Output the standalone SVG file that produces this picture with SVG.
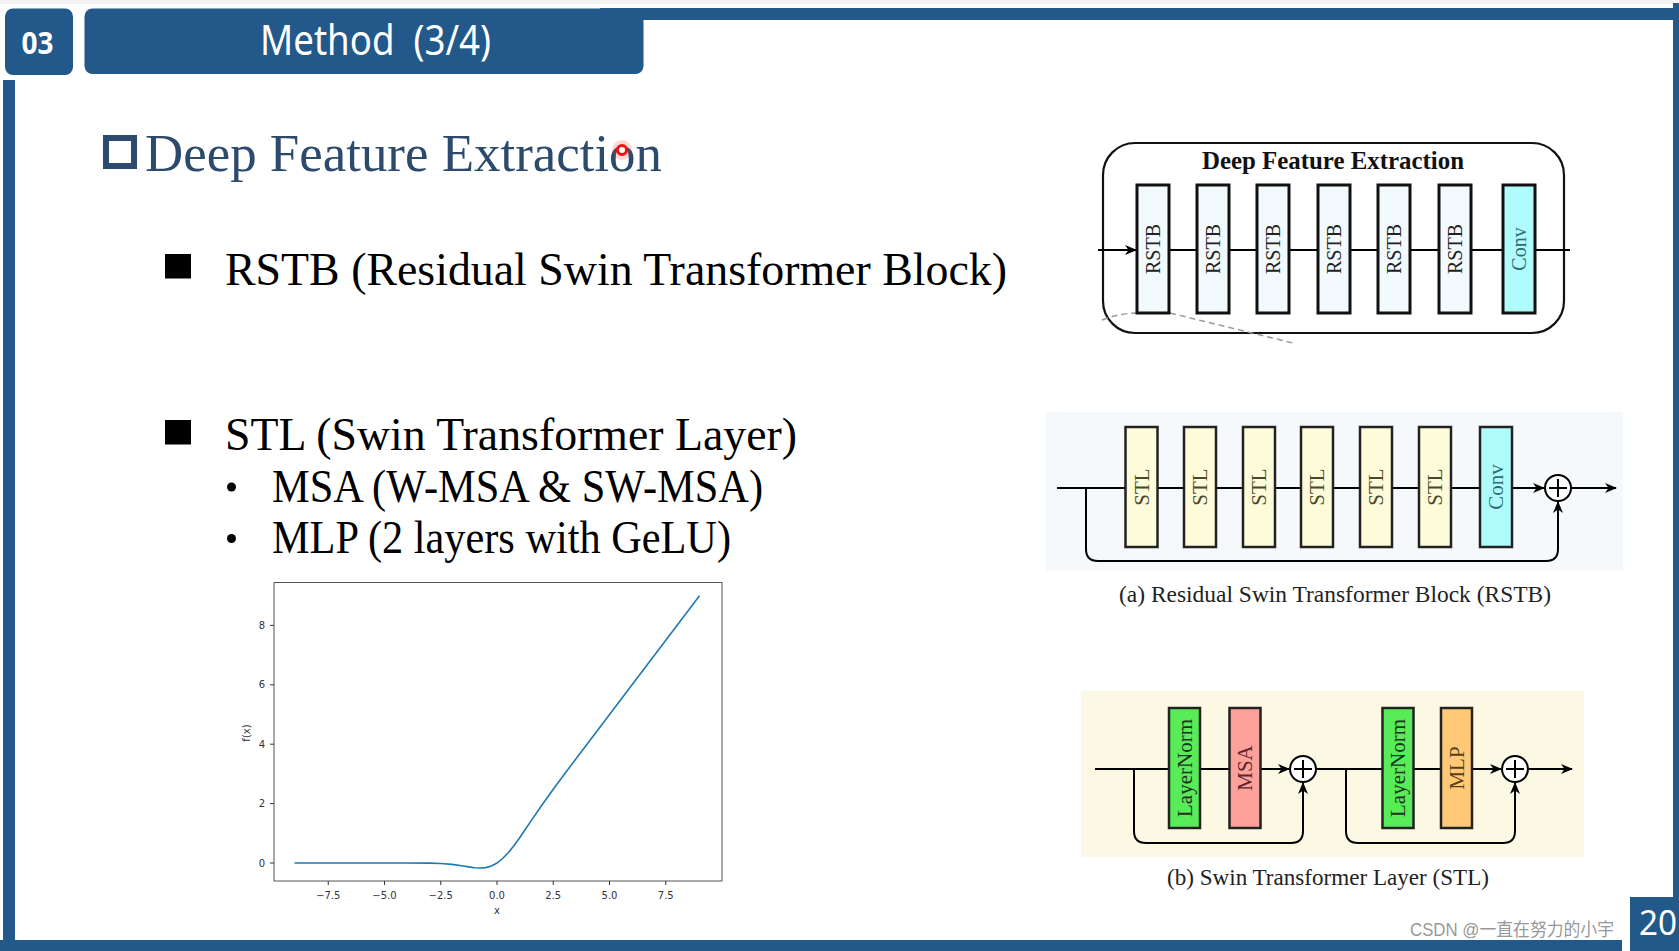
<svg xmlns="http://www.w3.org/2000/svg" width="1679" height="951" viewBox="0 0 1679 951">
<style>
.blue{fill:#22588a}
.serif{font-family:"Liberation Serif","Times New Roman",serif}
.sans{font-family:"Noto Sans","Open Sans","Liberation Sans",sans-serif}
.box{stroke:#111;stroke-width:3}
.boxs{stroke:#222;stroke-width:2.5}
.rot{font-family:"Liberation Serif","Times New Roman",serif;text-anchor:middle}
.ln{stroke:#000;stroke-width:2;fill:none}
.tick{font-family:"DejaVu Sans",sans-serif;font-size:10px;fill:#333}
</style>
<defs>
<marker id="arr" viewBox="0 0 12 10" refX="11" refY="5" markerWidth="12" markerHeight="10" orient="auto" markerUnits="userSpaceOnUse"><path d="M0,0 L12,5 L0,10 L3.5,5 z" fill="#000"/></marker>
</defs>
<rect width="1679" height="951" fill="#fff"/>
<rect width="1679" height="4" fill="#f3f3f3"/>
<!-- frame -->
<g id="frame">
<rect class="blue" x="600" y="8" width="1079" height="12"/>
<rect class="blue" x="1673" y="3" width="6" height="948"/>
<rect class="blue" x="3" y="80" width="12" height="871"/>
<rect class="blue" x="0" y="940" width="1622" height="11"/>
<rect class="blue" x="5" y="8.5" width="68" height="66.5" rx="8"/>
<text x="37.5" y="53.5" class="sans" font-size="30" font-weight="bold" fill="#fff" text-anchor="middle" textLength="32" lengthAdjust="spacingAndGlyphs">03</text>
<rect class="blue" x="84.5" y="8.5" width="559" height="65.5" rx="8"/>
<text x="260" y="55" class="sans" font-size="41" fill="#fff" textLength="231" lengthAdjust="spacingAndGlyphs">Method&#160;&#160;(3/4)</text>
<rect class="blue" x="1630" y="897" width="49" height="54"/>
<text x="1658" y="935" class="sans" font-size="34" fill="#fff" text-anchor="middle" textLength="38" lengthAdjust="spacingAndGlyphs">20</text>
</g>
<!-- heading -->
<g id="heading">
<rect x="106" y="138" width="28" height="28" fill="#fff" stroke="#2d4b6e" stroke-width="6"/>
<text x="145" y="171" class="serif" font-size="53" fill="#2c4a6b" textLength="517" lengthAdjust="spacingAndGlyphs">Deep Feature Extraction</text>
<circle cx="622" cy="150" r="10" fill="#ff3030" opacity="0.2"/>
<circle cx="622" cy="150" r="4.5" fill="#fff" stroke="#ee1111" stroke-width="3"/>
</g>
<!-- bullets -->
<g id="bullets" class="serif" fill="#000">
<rect x="165" y="254" width="26" height="24.5"/>
<text x="225" y="285" font-size="47" textLength="782" lengthAdjust="spacingAndGlyphs">RSTB (Residual Swin Transformer Block)</text>
<rect x="165" y="420" width="26" height="24.5"/>
<text x="225" y="450" font-size="47" textLength="572" lengthAdjust="spacingAndGlyphs">STL (Swin Transformer Layer)</text>
<circle cx="231.5" cy="487" r="4.5"/>
<text x="272" y="502" font-size="46" textLength="491" lengthAdjust="spacingAndGlyphs">MSA (W-MSA &amp; SW-MSA)</text>
<circle cx="231.5" cy="538.5" r="4.5"/>
<text x="272" y="552.5" font-size="46" textLength="459" lengthAdjust="spacingAndGlyphs">MLP (2 layers with GeLU)</text>
</g>
<!-- GELU plot -->
<g id="gelu-plot">
<rect x="274" y="582.5" width="448" height="298.5" fill="#fff" stroke="#555" stroke-width="1"/>
<g stroke="#333" stroke-width="1">
<path d="M270,863H274M270,803.6H274M270,744.2H274M270,684.8H274M270,625.4H274"/>
<path d="M328.25,881V885M384.5,881V885M440.75,881V885M497,881V885M553.25,881V885M609.5,881V885M665.75,881V885"/>
</g>
<g class="tick" text-anchor="end">
<text x="265" y="866.5">0</text><text x="265" y="807">2</text><text x="265" y="747.6">4</text><text x="265" y="688.2">6</text><text x="265" y="628.8">8</text>
</g>
<g class="tick" text-anchor="middle">
<text x="328.25" y="899">−7.5</text><text x="384.5" y="899">−5.0</text><text x="440.75" y="899">−2.5</text><text x="497" y="899">0.0</text><text x="553.25" y="899">2.5</text><text x="609.5" y="899">5.0</text><text x="665.75" y="899">7.5</text>
<text x="497" y="914">x</text>
<text x="250" y="733" transform="rotate(-90 250 733)">f(x)</text>
</g>
<polyline fill="none" stroke="#1f77b4" stroke-width="1.6" points="294.5,863 407,863 429.5,863.1 440.75,863.5 452,864.35 463.25,866 468.9,866.9 474.5,867.7 480.1,868.05 485.75,867.6 491.4,866 497,863 502.6,858.5 508.25,852.7 513.9,845.8 519.5,838 525.1,829.8 530.75,821.4 542,805 553.25,789.2 564.5,774 587,744.2 699.5,595.7"/>
</g>
<!-- Deep Feature Extraction panel -->
<g id="dfe-panel">
<rect x="1103" y="143" width="461" height="190" rx="32" fill="#fff" stroke="#111" stroke-width="2.2"/>
<text x="1333" y="169" class="serif" font-size="25" font-weight="bold" text-anchor="middle" fill="#111" textLength="262" lengthAdjust="spacingAndGlyphs">Deep Feature Extraction</text>
</g>
<g id="dfe-connectors">
<path class="ln" d="M1098,250H1136" marker-end="url(#arr)"/>
<path class="ln" d="M1169,250H1570"/>
<path d="M1102,320 Q1120,313 1138,313" fill="none" stroke="#999" stroke-width="1.5" stroke-dasharray="6,4"/>
<path d="M1170,313 L1293,343" fill="none" stroke="#999" stroke-width="1.5" stroke-dasharray="6,4"/>
</g>
<g id="rstb1"><rect class="box" x="1137" y="185" width="32" height="128" fill="#f2fafd"/><text class="rot" x="1153" y="249" dy="0.34em" font-size="20" fill="#222" transform="rotate(-90 1153 249)">RSTB</text></g>
<g id="rstb2"><rect class="box" x="1197" y="185" width="32" height="128" fill="#f2fafd"/><text class="rot" x="1213" y="249" dy="0.34em" font-size="20" fill="#222" transform="rotate(-90 1213 249)">RSTB</text></g>
<g id="rstb3"><rect class="box" x="1257" y="185" width="32" height="128" fill="#f2fafd"/><text class="rot" x="1273" y="249" dy="0.34em" font-size="20" fill="#222" transform="rotate(-90 1273 249)">RSTB</text></g>
<g id="rstb4"><rect class="box" x="1318" y="185" width="32" height="128" fill="#f2fafd"/><text class="rot" x="1334" y="249" dy="0.34em" font-size="20" fill="#222" transform="rotate(-90 1334 249)">RSTB</text></g>
<g id="rstb5"><rect class="box" x="1378" y="185" width="32" height="128" fill="#f2fafd"/><text class="rot" x="1394" y="249" dy="0.34em" font-size="20" fill="#222" transform="rotate(-90 1394 249)">RSTB</text></g>
<g id="rstb6"><rect class="box" x="1439" y="185" width="32" height="128" fill="#f2fafd"/><text class="rot" x="1455" y="249" dy="0.34em" font-size="20" fill="#222" transform="rotate(-90 1455 249)">RSTB</text></g>
<g id="conv-top"><rect class="box" x="1503" y="185" width="32" height="128" fill="#b0fcfc"/><text class="rot" x="1519" y="249" dy="0.34em" font-size="20" fill="#2f6b72" transform="rotate(-90 1519 249)">Conv</text></g>
<!-- RSTB detail panel (a) -->
<g id="rstb-panel">
<rect x="1046" y="412" width="577" height="159" fill="#f6f9fb"/>
<text x="1335" y="602" class="serif" font-size="23" fill="#222" text-anchor="middle" textLength="432" lengthAdjust="spacingAndGlyphs">(a) Residual Swin Transformer Block (RSTB)</text>
</g>
<g id="rstb-connectors">
<path class="ln" d="M1057,488H1544" marker-end="url(#arr)"/>
<path class="ln" d="M1571,488H1616" marker-end="url(#arr)"/>
<path class="ln" d="M1086,488V549Q1086,561 1098,561H1546Q1558,561 1558,549V502" marker-end="url(#arr)"/>
</g>
<g id="stl1"><rect class="boxs" x="1125.5" y="427" width="32" height="120" fill="#fdfbd9"/><text class="rot" x="1141.5" y="487" dy="0.34em" font-size="21" fill="#4a4a2a" transform="rotate(-90 1141.5 487)">STL</text></g>
<g id="stl2"><rect class="boxs" x="1184" y="427" width="32" height="120" fill="#fdfbd9"/><text class="rot" x="1200" y="487" dy="0.34em" font-size="21" fill="#4a4a2a" transform="rotate(-90 1200 487)">STL</text></g>
<g id="stl3"><rect class="boxs" x="1243" y="427" width="32" height="120" fill="#fdfbd9"/><text class="rot" x="1259" y="487" dy="0.34em" font-size="21" fill="#4a4a2a" transform="rotate(-90 1259 487)">STL</text></g>
<g id="stl4"><rect class="boxs" x="1301" y="427" width="32" height="120" fill="#fdfbd9"/><text class="rot" x="1317" y="487" dy="0.34em" font-size="21" fill="#4a4a2a" transform="rotate(-90 1317 487)">STL</text></g>
<g id="stl5"><rect class="boxs" x="1360" y="427" width="32" height="120" fill="#fdfbd9"/><text class="rot" x="1376" y="487" dy="0.34em" font-size="21" fill="#4a4a2a" transform="rotate(-90 1376 487)">STL</text></g>
<g id="stl6"><rect class="boxs" x="1419" y="427" width="32" height="120" fill="#fdfbd9"/><text class="rot" x="1435" y="487" dy="0.34em" font-size="21" fill="#4a4a2a" transform="rotate(-90 1435 487)">STL</text></g>
<g id="conv-a"><rect class="boxs" x="1480" y="427" width="32" height="120" fill="#b0fcfc"/><text class="rot" x="1496" y="487" dy="0.34em" font-size="21" fill="#2f6b72" transform="rotate(-90 1496 487)">Conv</text></g>
<g id="add-a"><circle cx="1558" cy="488" r="13" fill="#fff" stroke="#000" stroke-width="2"/><path d="M1549,488H1567M1558,479V497" stroke="#000" stroke-width="2"/></g>
<!-- STL detail panel (b) -->
<g id="stl-panel">
<rect x="1081" y="691" width="503" height="166" fill="#fbf9e3"/>
<text x="1328" y="885" class="serif" font-size="23" fill="#222" text-anchor="middle" textLength="322" lengthAdjust="spacingAndGlyphs">(b) Swin Transformer Layer (STL)</text>
</g>
<g id="stl-connectors">
<path class="ln" d="M1095,769H1289" marker-end="url(#arr)"/>
<path class="ln" d="M1316,769H1501" marker-end="url(#arr)"/>
<path class="ln" d="M1528,769H1572" marker-end="url(#arr)"/>
<path class="ln" d="M1134,769V831Q1134,843 1146,843H1291Q1303,843 1303,831V783" marker-end="url(#arr)"/>
<path class="ln" d="M1346,769V831Q1346,843 1358,843H1503Q1515,843 1515,831V783" marker-end="url(#arr)"/>
</g>
<g id="layernorm1"><rect class="boxs" x="1169" y="708" width="31" height="120" fill="#58ec58"/><text class="rot" x="1184.5" y="768" dy="0.34em" font-size="21" fill="#1d331d" transform="rotate(-90 1184.5 768)">LayerNorm</text></g>
<g id="msa"><rect class="boxs" x="1229.5" y="708" width="31" height="120" fill="#ffa19b"/><text class="rot" x="1245" y="768" dy="0.34em" font-size="21" fill="#5a2626" transform="rotate(-90 1245 768)">MSA</text></g>
<g id="layernorm2"><rect class="boxs" x="1382.5" y="708" width="31" height="120" fill="#58ec58"/><text class="rot" x="1398" y="768" dy="0.34em" font-size="21" fill="#1d331d" transform="rotate(-90 1398 768)">LayerNorm</text></g>
<g id="mlp"><rect class="boxs" x="1441" y="708" width="31" height="120" fill="#ffc977"/><text class="rot" x="1456.5" y="768" dy="0.34em" font-size="21" fill="#5a3f16" transform="rotate(-90 1456.5 768)">MLP</text></g>
<g id="add-b1"><circle cx="1303" cy="769" r="13" fill="#fff" stroke="#000" stroke-width="2"/><path d="M1294,769H1312M1303,760V778" stroke="#000" stroke-width="2"/></g>
<g id="add-b2"><circle cx="1515" cy="769" r="13" fill="#fff" stroke="#000" stroke-width="2"/><path d="M1506,769H1524M1515,760V778" stroke="#000" stroke-width="2"/></g>
<!-- watermark -->
<text x="1410" y="936" font-family="'Liberation Sans','Noto Sans CJK SC',sans-serif" font-size="18" fill="#8a8a8a" fill-opacity="0.9" textLength="204" lengthAdjust="spacingAndGlyphs">CSDN @一直在努力的小宇</text>
</svg>
